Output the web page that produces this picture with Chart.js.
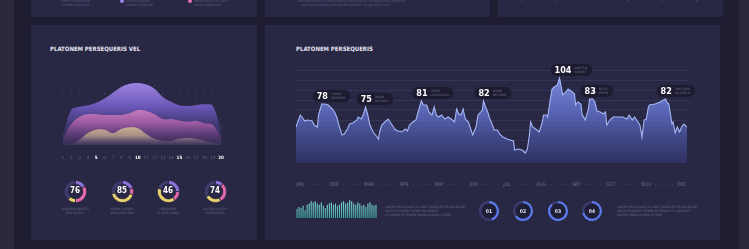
<!DOCTYPE html>
<html>
<head>
<meta charset="utf-8">
<script src="https://cdn.jsdelivr.net/npm/chart.js@4.4.1/dist/chart.umd.min.js"></script>
<style>
body{margin:0;width:749px;height:249px;background:#2a293d;overflow:hidden;position:relative;
  font-family:'Liberation Sans Narrow','DejaVu Sans Condensed',sans-serif;}
.frame{position:absolute;left:14px;top:0;width:725px;height:249px;background:#1e1d31}
.panel{position:absolute;background:#292844}
.title{position:absolute;color:#e6e6f2;font-size:6px;font-weight:bold;white-space:nowrap}
.tiny{position:absolute;color:rgba(170,170,210,0.45);font-size:3px;line-height:4px;white-space:nowrap}
.num{position:absolute;color:#fff;font-weight:bold;font-size:8px;text-align:center;width:24px;line-height:10px}
.hole{position:absolute;border-radius:50%;background:#1f1e37}
.ringnum{position:absolute;color:#e8e8f8;font-size:5px;font-weight:bold;text-align:center;width:20px;line-height:6px}
.months{position:absolute;left:296px;top:181px;width:391px;display:flex;justify-content:space-between;
  color:rgba(175,175,210,0.5);font-size:5px;line-height:6px}
.dot{position:absolute;width:4px;height:4px;border-radius:50%}
canvas{position:absolute}
</style>
</head>
<body>
<div class="frame"></div>

<!-- top strip (cut off) -->
<div class="panel" style="left:31px;top:0;width:226px;height:17px"></div>
<div class="panel" style="left:265px;top:0;width:225px;height:17px"></div>
<div class="panel" style="left:498px;top:0;width:225px;height:17px"></div>
<div class="tiny" style="left:61px;top:-1px">LOREM IPSUM DOLOR<br>TEMPOR INCIDIDUNT</div>
<div class="dot" style="left:120px;top:-1px;background:#9b82e4"></div>
<div class="tiny" style="left:126px;top:-1px">SED DO EIUSMOD<br>LABORE ET DOLORE</div>
<div class="dot" style="left:188px;top:-1px;background:#e472ad"></div>
<div class="tiny" style="left:194px;top:-1px">MAGNA ALIQUA UT ENIM<br>MINIM VENIAM QUIS</div>
<div class="tiny" style="left:298px;top:-1px">NOSTRUD EXERCITATION ULLAMCO LABORIS NISI UT ALIQUIP EX EA COMMODO<br>&nbsp;&nbsp;&nbsp;&nbsp;DUIS AUTE IRURE DOLOR IN REPREHENDERIT IN VOLUPTATE VELIT</div>
<div class="tiny" style="left:521px;top:-1px">1</div>
<div class="tiny" style="left:556px;top:-1px">2</div>
<div class="tiny" style="left:591px;top:-1px">3</div>
<div class="tiny" style="left:627px;top:-1px">4</div>
<div class="tiny" style="left:661px;top:-1px">5</div>
<div class="tiny" style="left:696px;top:-1px">6</div>

<!-- bottom panels -->
<div class="panel" style="left:31px;top:25px;width:226px;height:215px"></div>
<div class="panel" style="left:265px;top:25px;width:455px;height:215px"></div>

<div class="title" style="left:50px;top:45px">PLATONEM PERSEQUERIS VEL</div>
<div class="title" style="left:296px;top:45px">PLATONEM PERSEQUERIS</div>

<canvas id="mountain" width="175" height="110" style="left:55px;top:60px"></canvas>

<canvas id="d0" width="23" height="23" style="left:64px;top:180px"></canvas>
<canvas id="d1" width="23" height="23" style="left:111px;top:180px"></canvas>
<canvas id="d2" width="23" height="23" style="left:157px;top:180px"></canvas>
<canvas id="d3" width="23" height="23" style="left:204px;top:180px"></canvas>
<div id="dnums"></div>

<canvas id="line" width="405" height="120" style="left:290px;top:50px"></canvas>
<div class="months" id="months"></div>

<canvas id="bars" width="86" height="22" style="left:294px;top:198px"></canvas>
<div class="tiny" style="left:385px;top:205px">LOREM IPSUM DOLOR SIT AMET CONSECTETUR ADIPISCING<br>SED DO EIUSMOD TEMPOR INCIDIDUNT<br>UT LABORE ET DOLORE MAGNA ALIQUA UT ENIM</div>
<div id="rings"></div>
<div class="tiny" style="left:617px;top:205px">LOREM IPSUM DOLOR SIT AMET CONSECTETUR ADIPISCING<br>SED DO EIUSMOD TEMPOR INCIDIDUNT UT LABORE ET<br>DOLORE MAGNA ALIQUA UT ENIM</div>

<script>
// ---------------- data ----------------
const mountainLabels = ['1','2','3','4','5','6','7','8','9','10','11','12','13','14','15','16','17','18','19','20'];
const purpleVals = [1.0, 4.0, 4.4, 4.6, 4.9, 5.4, 6.1, 6.8, 7.2, 7.3, 7.1, 6.6, 5.6, 5.0, 4.6, 4.5, 4.6, 4.7, 4.5, 1.5];
const pinkVals   = [0.6, 2.3, 3.2, 3.5, 3.5, 3.4, 3.4, 3.4, 3.6, 4.0, 3.9, 3.5, 2.9, 2.9, 2.7, 2.6, 2.7, 2.4, 2.2, 0.7];
const yellowVals = [-0.2, -0.1, 0.4, 1.2, 1.6, 1.6, 1.2, 1.7, 1.9, 1.8, 1.1, 0.5, 0.25, 0.25, 0.5, 0.6, 0.5, 0.25, 0.0, -0.1];
const highlightTicks = ['5','10','15','20'];

const donutValues = ['76','85','46','74'];
const donutParts = [
    [17, 33, 12, 38],
    [20, 10, 42, 28],
    [25, 15, 40, 20],
    [12, 30, 25, 33]
];
const donutNotes = [
    ['TAMQUAM MOLESTIE', 'NISL EOVITIS'],
    ['PORRO VIVENDO', 'LIBRIS ELECTRAM'],
    ['MEDIOCREM', 'UT DISPUTANDO'],
    ['QUODSI LAUDEM', 'PERSEQUERIS']
];

const months = ['JAN','FEB','MAR','APR','MAY','JUN','JUL','AUG','SEP','OCT','NOV','DEC'];
const lineDays = [0,4,7,8,11,15,17,20,21,24,27,30,34,36,38,40,43,45,48,50,
    53,57,58,61,63,65,67,69,72,75,77,78,80,83,86,89,91,92,95,99,
    102,104,106,109,112,114,117,119,122,124,127,129,131,133,136,139,142,146,148,150,
    152,154,156,158,161,164,165,168,170,174,175,177,179,181,183,185,188,190,193,197,
    200,203,204,207,211,214,216,218,219,221,225,227,230,231,234,235,237,239,241,244,
    246,248,249,252,254,258,260,261,263,266,267,270,273,274,277,279,281,284,287,289,
    290,293,296,300,302,305,309,311,314,316,318,321,323,325,327,329,330,335,340,343,
    345,346,348,351,352,354,356,358,360,362,365];
const lineVals = [33,45,41,39,40,39,35,33,45,56,56,55,51,48,43,35,25,26,31,36,
    37,40,43,41,46,53,45,35,28,24,21,28,35,38,41,36,33,31,29,28,
    31,29,35,38,40,48,59,55,55,48,45,53,45,43,45,41,43,40,38,51,
    46,45,51,41,38,28,25,33,45,50,59,53,48,41,36,30,30,26,23,21,
    20,19,10,11,10,7,11,26,38,33,30,28,38,45,45,43,58,71,73,75,
    82,71,65,68,71,68,66,55,58,56,46,40,51,61,61,58,49,48,46,48,
    35,40,43,43,43,43,41,45,40,43,40,35,23,40,41,53,55,56,58,60,
    61,58,56,36,38,27,33,28,33,36,33];
const annDays   = [24, 65, 117, 175, 246, 274, 345];
const annLabels = ['78','75','81','82','104','83','82'];
const annNotes  = [
    ['CHORO','INTERDUM'], ['DOLOR','SECESSIO'], ['LATINE','LUCILIUS SEA'],
    ['VIVANT','MEI FORM'], ['SANCTUS','IUVARET'], ['NE VIX','PERTIN'], ['CIBO VERO','SALUTATUS']
];

const barVals = [8,10,9,11,7,12,13,15,14,15,13,12,14,11,9,12,13,14,12,13,
    11,12,14,15,13,14,16,15,13,12,14,13,11,12,10,13,14,12,11,12];

const ringLabels = ['01','02','03','04'];
const ringVals = [45, 65, 88, 72];

// ---------------- helpers ----------------
const fontStack = "'Liberation Sans Narrow','DejaVu Sans Condensed',sans-serif";

function vGrad(context, stops) {
    const chart = context.chart;
    const a = chart.chartArea;
    if (!a) return 'rgba(0,0,0,0)';
    const g = chart.ctx.createLinearGradient(0, a.top, 0, a.bottom);
    stops.forEach(s => g.addColorStop(s[0], s[1]));
    return g;
}

//================================ mountain chart ================================
const dotGrid = {
    id: 'dotGrid',
    beforeDatasetsDraw(chart) {
        const ctx = chart.ctx, x = chart.scales.x, y = chart.scales.y;
        ctx.save();
        ctx.fillStyle = 'rgba(140,140,195,0.35)';
        for (let i = 0; i < mountainLabels.length; i++) {
            for (let v = 0; v <= 9; v++) {
                ctx.beginPath();
                ctx.arc(x.getPixelForValue(i), y.getPixelForValue(v), 0.55, 0, Math.PI * 2);
                ctx.fill();
            }
        }
        ctx.restore();
    }
};

new Chart(document.getElementById('mountain'), {
    type: 'line',
    data: {
        labels: mountainLabels,
        datasets: [{
            data: yellowVals,
            fill: 'start',
            borderWidth: 0,
            pointRadius: 0,
            tension: 0.4,
            backgroundColor: c => vGrad(c, [[0.65, '#ecd59c'], [0.88, '#a58b86'], [1, 'rgba(90,80,110,0.25)']])
        }, {
            data: pinkVals,
            fill: 'start',
            borderWidth: 0,
            pointRadius: 0,
            tension: 0.4,
            backgroundColor: c => vGrad(c, [[0.45, '#da8cc9'], [0.72, '#98589f'], [1, 'rgba(80,50,105,0.25)']])
        }, {
            data: purpleVals,
            fill: 'start',
            borderWidth: 0,
            pointRadius: 0,
            tension: 0.4,
            backgroundColor: c => vGrad(c, [[0.15, '#a388e6'], [0.5, '#6a56b6'], [1, 'rgba(50,44,100,0.25)']])
        }]
    },
    options: {
        responsive: false,
        animation: false,
        layout: { padding: { left: 8, right: 9, top: 9, bottom: 0 } },
        plugins: { legend: { display: false }, tooltip: { enabled: false } },
        scales: {
            x: {
                grid: { display: false },
                border: { display: false },
                afterFit: s => { s.height = 25; },
                ticks: {
                    padding: 2,
                    autoSkip: false,
                    maxRotation: 0,
                    font: c => ({ family: fontStack, size: 4.5, weight: highlightTicks.includes(mountainLabels[c.index]) ? 'bold' : 'normal' }),
                    color: c => highlightTicks.includes(mountainLabels[c.index]) ? '#ffffff' : 'rgba(160,160,200,0.45)'
                }
            },
            y: { display: false, min: -0.25, max: 9 }
        }
    },
    plugins: [dotGrid]
});

//================================ donuts ================================
const donutColors = ['#8e73dc', '#e36aa9', '#e8d36f', '#3f3c6e'];
let dn = '';
donutValues.forEach((val, i) => {
    new Chart(document.getElementById('d' + i), {
        type: 'doughnut',
        data: {
            datasets: [{
                data: donutParts[i],
                backgroundColor: donutColors,
                borderColor: '#292844',
                borderWidth: 0.8
            }]
        },
        options: {
            responsive: false,
            animation: false,
            cutout: '66%',
            plugins: { legend: { display: false }, tooltip: { enabled: false } }
        }
    });
    const cx = [75, 122, 168, 215][i];
    dn += '<div class="num" style="left:' + (cx - 12) + 'px;top:186px">' + val + '</div>';
    dn += '<div class="tiny" style="left:' + (cx - 20) + 'px;top:207px;width:40px;text-align:center">' +
        donutNotes[i][0] + '<br>' + donutNotes[i][1] + '</div>';
});
document.getElementById('dnums').innerHTML = dn;

//================================ line chart ================================
const pills = {
    id: 'pills',
    afterDatasetsDraw(chart) {
        const ctx = chart.ctx, x = chart.scales.x, y = chart.scales.y;
        ctx.save();
        annDays.forEach((d, k) => {
            const idx = lineDays.indexOf(d);
            const px = x.getPixelForValue(lineDays[idx]);
            const py = y.getPixelForValue(lineVals[idx]) - 8;
            ctx.font = 'bold 9px ' + fontStack;
            const nw = ctx.measureText(annLabels[k]).width;
            ctx.font = '3px ' + fontStack;
            const tw = Math.max(ctx.measureText(annNotes[k][0]).width, ctx.measureText(annNotes[k][1]).width);
            const left = px - 9, right = px - 5 + nw + 3 + tw + 5;
            ctx.fillStyle = 'rgba(27,26,46,0.92)';
            ctx.beginPath();
            ctx.roundRect(left, py - 6, right - left, 12, 6);
            ctx.fill();
            ctx.fillStyle = '#ffffff';
            ctx.font = 'bold 9px ' + fontStack;
            ctx.textBaseline = 'middle';
            ctx.fillText(annLabels[k], px - 5, py + 0.5);
            ctx.fillStyle = 'rgba(175,175,210,0.55)';
            ctx.font = '3px ' + fontStack;
            ctx.fillText(annNotes[k][0], px - 5 + nw + 3, py - 1.5);
            ctx.fillText(annNotes[k][1], px - 5 + nw + 3, py + 2);
        });
        ctx.restore();
    }
};

new Chart(document.getElementById('line'), {
    type: 'line',
    data: {
        datasets: [{
            data: lineDays.map((d, i) => ({ x: d, y: lineVals[i] })),
            borderColor: '#a6b6f4',
            borderWidth: 1.1,
            pointRadius: 0,
            tension: 0,
            fill: 'start',
            backgroundColor: c => vGrad(c, [[0, 'rgba(135,155,240,0.95)'], [0.5, 'rgba(95,110,200,0.8)'], [1, 'rgba(55,60,125,0.55)']])
        }]
    },
    options: {
        responsive: false,
        animation: false,
        layout: { padding: { left: 6, right: 8, top: 20, bottom: 7 } },
        plugins: { legend: { display: false }, tooltip: { enabled: false } },
        scales: {
            x: { type: 'linear', display: false, min: 0, max: 365 },
            y: {
                min: -3,
                max: 90,
                afterFit: s => { s.width = 0; },
                border: { display: false },
                ticks: { display: false, stepSize: 10 },
                grid: {
                    drawTicks: false,
                    color: c => c.tick.value < 0 ? 'rgba(0,0,0,0)' : 'rgba(125,130,200,0.18)',
                    lineWidth: 0.8
                }
            }
        }
    },
    plugins: [pills]
});

let mh = '';
months.forEach((m, i) => {
    mh += '<span>' + m + '</span>';
    if (i < months.length - 1) mh += '<span>-</span><span>-</span><span>-</span><span>-</span>';
});
document.getElementById('months').innerHTML = mh;

//================================ mini bars ================================
new Chart(document.getElementById('bars'), {
    type: 'bar',
    data: {
        labels: barVals.map((v, i) => i),
        datasets: [{
            data: barVals,
            backgroundColor: c => vGrad(c, [[0, '#8fe3d8'], [1, '#3fa7a0']]),
            barPercentage: 0.55,
            categoryPercentage: 1
        }]
    },
    options: {
        responsive: false,
        animation: false,
        layout: { padding: { left: 2, right: 3, top: 0, bottom: 2 } },
        plugins: { legend: { display: false }, tooltip: { enabled: false } },
        scales: {
            x: { display: false },
            y: { display: false, min: 0, max: 18 }
        }
    }
});

//================================ rings ================================
let rh = '';
ringLabels.forEach((lab, i) => {
    const cx = [489, 523, 558, 592][i];
    rh += '<div class="hole" style="left:' + (cx - 7) + 'px;top:204px;width:14px;height:14px"></div>';
    rh += '<canvas id="r' + i + '" width="20" height="20" style="left:' + (cx - 10) + 'px;top:201px"></canvas>';
    rh += '<div class="ringnum" style="left:' + (cx - 10) + 'px;top:208px">' + lab + '</div>';
});
document.getElementById('rings').innerHTML = rh;
ringVals.forEach((v, i) => {
    new Chart(document.getElementById('r' + i), {
        type: 'doughnut',
        data: {
            datasets: [{
                data: [v, 100 - v],
                backgroundColor: ['#5b7cf0', '#3a3d70'],
                borderWidth: 0
            }]
        },
        options: {
            responsive: false,
            animation: false,
            cutout: '78%',
            plugins: { legend: { display: false }, tooltip: { enabled: false } }
        }
    });
});
</script>
</body>
</html>
